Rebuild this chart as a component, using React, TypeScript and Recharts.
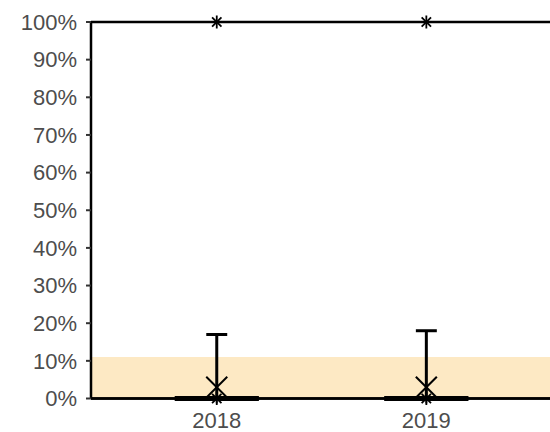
import React from "react";
import {
  ComposedChart,
  Line,
  Scatter,
  XAxis,
  YAxis,
  ReferenceArea,
  ReferenceLine,
} from "recharts";

const years = [2018, 2019];
const q1 = [0, 0];
const median = [0, 0];
const q3 = [0, 0];
const whiskerLow = [0, 0];
const whiskerHigh = [17, 18];
const means = [3, 3];
const minima = [0, 0];
const maxima = [100, 100];
const yTicks = [0, 10, 20, 30, 40, 50, 60, 70, 80, 90, 100];
const bandTop = 11;

const BOX_HALF = 0.2;
const CAP_HALF = 0.05;
const font = "'Liberation Sans', Arial, sans-serif";

function XMark(props: any) {
  const { cx, cy } = props;
  const r = 10.5;
  return (
    <g stroke="#000" strokeWidth={2}>
      <line x1={cx - r} y1={cy - r} x2={cx + r} y2={cy + r} />
      <line x1={cx - r} y1={cy + r} x2={cx + r} y2={cy - r} />
    </g>
  );
}

function Asterisk(props: any) {
  const { cx, cy } = props;
  const r = 6.5;
  const d = r * 0.72;
  return (
    <g stroke="#000" strokeWidth={1.8}>
      <line x1={cx} y1={cy - r} x2={cx} y2={cy + r} />
      <line x1={cx - r} y1={cy} x2={cx + r} y2={cy} />
      <line x1={cx - d} y1={cy - d} x2={cx + d} y2={cy + d} />
      <line x1={cx - d} y1={cy + d} x2={cx + d} y2={cy - d} />
    </g>
  );
}

export default function App() {
  const meanData = years.map((x, i) => ({ x, y: means[i] }));
  const extremeData = years.flatMap((x, i) => [
    { x, y: minima[i] },
    { x, y: maxima[i] },
  ]);

  return (
    <div style={{ position: "absolute", left: 0, top: 0, width: 550, height: 432, overflow: "hidden" }}>
      <ComposedChart
        width={550}
        height={432}
        margin={{ top: 22, right: 0, bottom: 0, left: 0 }}
        style={{ fontFamily: font }}
      >
        <XAxis
          type="number"
          dataKey="x"
          domain={[2017.4, 2019.59]}
          ticks={years}
          allowDataOverflow
          height={33.5}
          tickSize={5}
          tickMargin={9}
          axisLine={{ stroke: "#000", strokeWidth: 2.5 }}
          tickLine={{ stroke: "#333", strokeWidth: 2 }}
          tick={{ fill: "#4d4d4d", fontSize: 22, fontFamily: font }}
        />
        <YAxis
          type="number"
          domain={[0, 100]}
          ticks={yTicks}
          width={91}
          tickSize={5}
          tickMargin={9}
          tickFormatter={(v) => `${v}%`}
          axisLine={{ stroke: "#000", strokeWidth: 2.5 }}
          tickLine={{ stroke: "#333", strokeWidth: 2 }}
          tick={{ fill: "#4d4d4d", fontSize: 22, fontFamily: font }}
        />
        <ReferenceArea y1={0} y2={bandTop} fill="#fde9c4" fillOpacity={1} stroke="none" />
        <ReferenceLine y={100} stroke="#000" strokeWidth={2.5} />
        <ReferenceLine y={0} stroke="#000" strokeWidth={2.5} />

        {years.map((yr, i) => (
          <Line
            key={`whisker-${yr}`}
            data={[
              { x: yr, y: whiskerLow[i] },
              { x: yr, y: whiskerHigh[i] },
            ]}
            dataKey="y"
            stroke="#000"
            strokeWidth={3}
            dot={false}
            activeDot={false}
            isAnimationActive={false}
          />
        ))}
        {years.map((yr, i) => (
          <Line
            key={`cap-${yr}`}
            data={[
              { x: yr - CAP_HALF, y: whiskerHigh[i] },
              { x: yr + CAP_HALF, y: whiskerHigh[i] },
            ]}
            dataKey="y"
            stroke="#000"
            strokeWidth={3}
            dot={false}
            activeDot={false}
            isAnimationActive={false}
          />
        ))}
        {years.map((yr, i) => (
          <Line
            key={`box-${yr}`}
            data={[
              { x: yr - BOX_HALF, y: q1[i] },
              { x: yr - BOX_HALF, y: q3[i] },
              { x: yr + BOX_HALF, y: q3[i] },
              { x: yr + BOX_HALF, y: q1[i] },
              { x: yr - BOX_HALF, y: q1[i] },
            ]}
            dataKey="y"
            stroke="#000"
            strokeWidth={5}
            dot={false}
            activeDot={false}
            isAnimationActive={false}
          />
        ))}
        {years.map((yr, i) => (
          <Line
            key={`median-${yr}`}
            data={[
              { x: yr - BOX_HALF, y: median[i] },
              { x: yr + BOX_HALF, y: median[i] },
            ]}
            dataKey="y"
            stroke="#000"
            strokeWidth={5}
            dot={false}
            activeDot={false}
            isAnimationActive={false}
          />
        ))}
        <Scatter data={meanData} dataKey="y" shape={<XMark />} isAnimationActive={false} />
        <Scatter data={extremeData} dataKey="y" shape={<Asterisk />} isAnimationActive={false} />
      </ComposedChart>
    </div>
  );
}
